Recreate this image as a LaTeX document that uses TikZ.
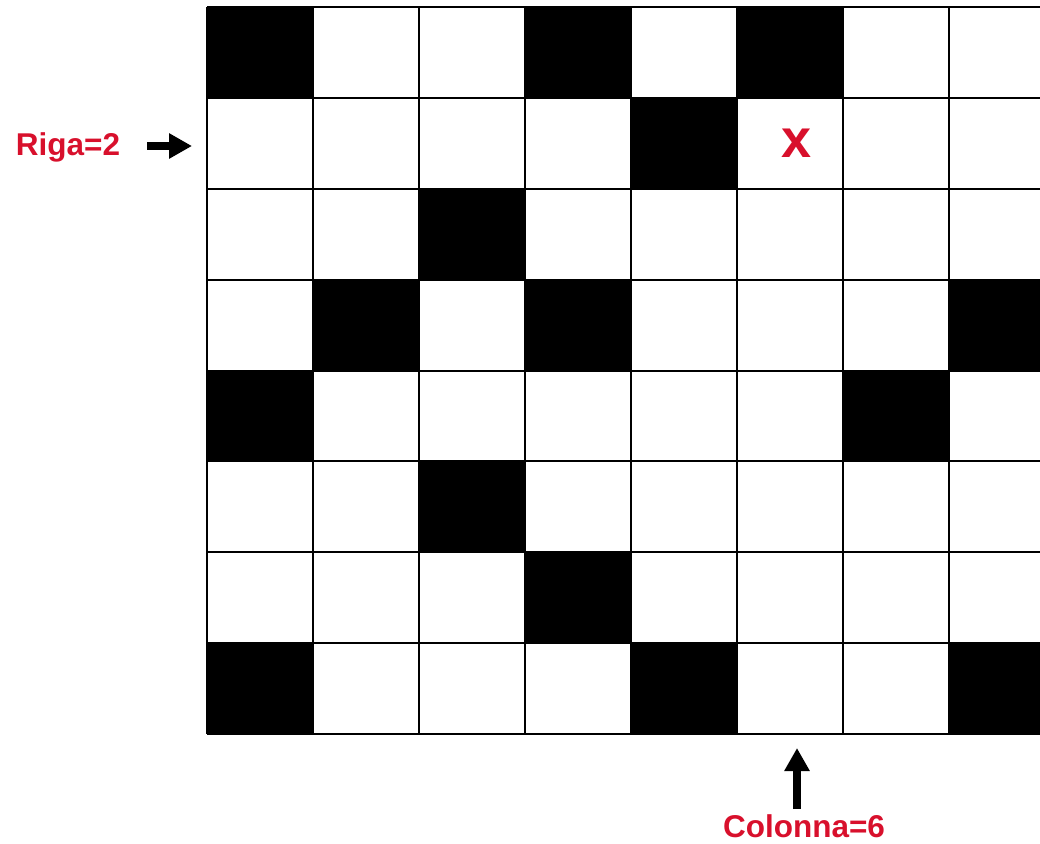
\documentclass[tikz,border=0pt]{standalone}
\usepackage{fontspec}
\setmainfont{Liberation Sans}
\usetikzlibrary{arrows.meta}
\definecolor{lblred}{RGB}{216,16,44}
\tikzset{
  gridline/.style={line width=2pt, black},
  blackcell/.style={fill=black},
  lbl/.style={text=lblred, font=\fontsize{31.5}{36}\selectfont\bfseries, inner sep=0pt, anchor=base},
  bigarrow/.style={line width=7.5pt, -{Triangle[length=23pt,width=24pt]}, black}
}
\begin{document}
\begin{tikzpicture}[x=1pt,y=-1pt]
\useasboundingbox (0,0) rectangle (1040,843);
\def\cw{106}
\def\rh{90.875}
\begin{scope}
\clip (0,0) rectangle (1040,843);
% black cells (row, col)
\foreach \r/\c in {1/1,1/4,1/6, 2/5, 3/3, 4/2,4/4,4/8, 5/1,5/7, 6/3, 7/4, 8/1,8/5,8/8}{
  \fill[blackcell] ({207+(\c-1)*\cw},{7+(\r-1)*\rh}) rectangle ({207+\c*\cw},{7+\r*\rh});
}
% grid lines
\foreach \i in {0,...,8}{
  \draw[gridline] ({207+\i*\cw},7) -- ({207+\i*\cw},{7+8*\rh});
  \draw[gridline] (207,{7+\i*\rh}) -- ({207+8*\cw},{7+\i*\rh});
}
\end{scope}
% marker
\node[text=lblred, font=\fontsize{54}{60}\selectfont\bfseries, inner sep=0pt, anchor=base] (mark) at (797,157) {x};
% labels
\node[lbl] (riga) at (68,155) {Riga=2};
\node[lbl] (col) at (804,837) {Colonna=6};
% arrows
\coordinate (rigaS) at (147,146);
\coordinate (rigaE) at (192,146);
\coordinate (colS) at (797,809);
\coordinate (colE) at (797,748);
\draw[bigarrow] (rigaS) -- (rigaE);
\draw[bigarrow] (colS) -- (colE);
\end{tikzpicture}
\end{document}
